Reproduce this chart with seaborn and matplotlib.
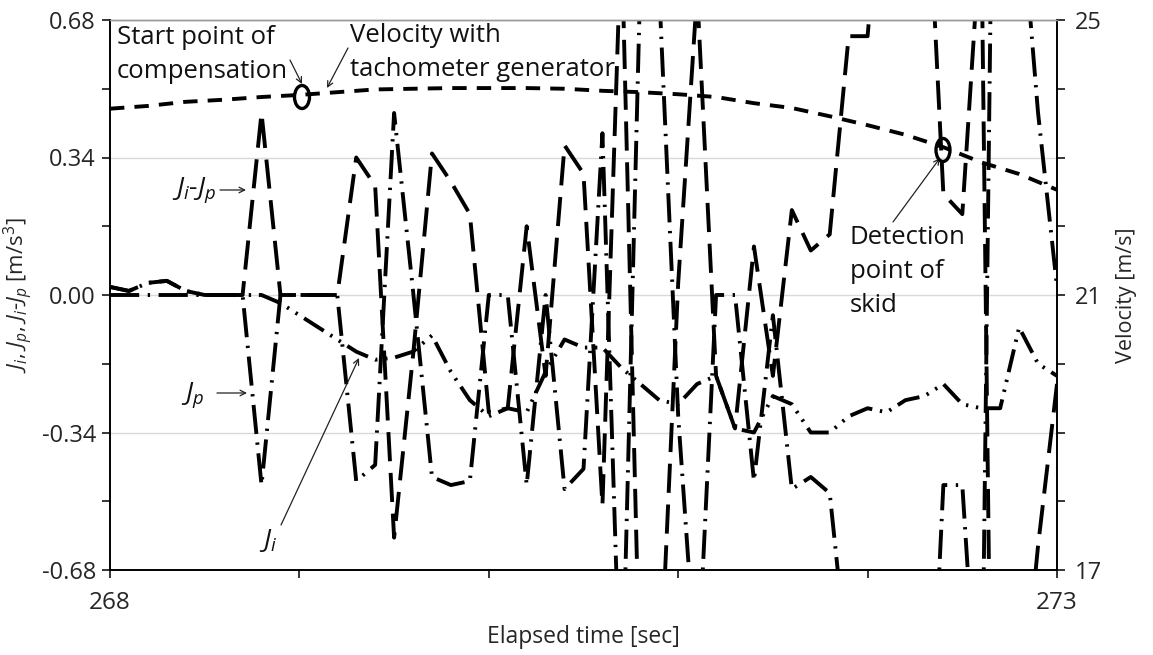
import numpy as np
import pandas as pd
import matplotlib
matplotlib.use("Agg")
import matplotlib.pyplot as plt
import seaborn as sns
from matplotlib.patches import Ellipse

# ---------------- data ----------------
time = np.round(np.arange(268.0, 273.0001, 0.1), 1)

ji = [0.02, 0.01, 0.03, 0.035, 0.01, 0.0, 0.0, 0.0, 0.0, -0.02,
      -0.05, -0.08, -0.11, -0.14, -0.16, -0.155, -0.14, -0.10, -0.19, -0.26,
      -0.30, -0.28, -0.29, -0.19, -0.11, -0.13, -0.13, -0.18, -0.22, -0.26,
      -0.27, -0.22, -0.20, -0.33, -0.34, -0.25, -0.27, -0.34, -0.34, -0.30,
      -0.28, -0.29, -0.26, -0.25, -0.22, -0.27, -0.28, -0.28, -0.08, -0.17,
      -0.20]

jp = [0.0, 0.0, 0.0, 0.0, 0.0, 0.0, 0.0, 0.0, -0.47, 0.0,
      0.0, 0.0, 0.0, -0.46, -0.42, 0.45, 0.01, -0.45, -0.47, -0.46,
      0.0, 0.0, -0.47, 0.0, -0.48, -0.43, 0.40, -1.08, 0.78, 0.75,
      -0.30, -0.97, 0.0, 0.0, -0.46, -0.05, -0.48, -0.45, -0.49, -0.94,
      -0.92, -1.49, -1.66, -1.45, -0.47, -0.47, -1.20, 2.70, 1.02, 0.45,
      0.02]

ji_jp = [0.02, 0.01, 0.03, 0.035, 0.01, 0.0, 0.0, 0.0, 0.45, 0.0,
         0.0, 0.0, 0.0, 0.34, 0.27, -0.60, -0.15, 0.35, 0.28, 0.20,
         -0.29, -0.28, 0.17, -0.20, 0.37, 0.30, -0.52, 0.90, -1.00, -1.00,
         0.03, 0.75, -0.20, -0.33, 0.12, -0.20, 0.21, 0.11, 0.15, 0.64,
         0.64, 1.20, 1.40, 1.20, 0.25, 0.20, 0.92, -3.00, -1.10, -0.62,
         -0.22]

vel_time = [268.0, 268.2, 268.4, 268.6, 268.8, 269.0, 269.2, 269.4, 269.6,
            269.8, 270.0, 270.2, 270.4, 270.6, 270.8, 271.0, 271.2, 271.4,
            271.6, 271.8, 272.0, 272.2, 272.4, 272.6, 272.8, 273.0]
velocity = [23.71, 23.75, 23.81, 23.84, 23.88, 23.91, 23.95, 23.99, 24.00,
            24.01, 24.01, 24.01, 24.00, 23.97, 23.95, 23.92, 23.88, 23.79,
            23.72, 23.60, 23.47, 23.33, 23.15, 22.93, 22.76, 22.53]

left_ticks = [-0.68, -0.34, 0.0, 0.34, 0.68]
left_minor = [-0.51, -0.17, 0.17, 0.51]
x_ticks = [268, 269, 270, 271, 272, 273]
x_labels = ["268", "", "", "", "", "273"]
right_ticks = [17, 18, 19, 20, 21, 22, 23, 24, 25]
right_labels = ["17", "", "", "", "21", "", "", "", "25"]

# ---------------- style ----------------
sns.set_style("white")
plt.rcParams["font.family"] = ["Open Sans", "DejaVu Sans"]
plt.rcParams["mathtext.fontset"] = "custom"
plt.rcParams["mathtext.it"] = "Open Sans:italic"
plt.rcParams["mathtext.rm"] = "Open Sans"

W, H = 1153, 655
fig = plt.figure(figsize=(W / 100, H / 100), dpi=100)
L, R, T, B = 110, 1057, 20, 570
ax = fig.add_axes([L / W, 1 - B / H, (R - L) / W, (B - T) / H])
ax2 = ax.twinx()

df = pd.DataFrame({"t": time, "ji": ji, "jp": jp, "d": ji_jp})
vdf = pd.DataFrame({"t": vel_time, "v": velocity})

LW = 2.8
sns.lineplot(data=df, x="t", y="ji", ax=ax, color="black", lw=LW, estimator=None)
ax.lines[-1].set_dashes([6, 2.0, 0.6, 2.0, 0.6, 2.0])
sns.lineplot(data=df, x="t", y="jp", ax=ax, color="black", lw=LW, estimator=None)
ax.lines[-1].set_dashes([7.5, 2.2, 0.6, 2.2])
sns.lineplot(data=df, x="t", y="d", ax=ax, color="black", lw=LW, estimator=None)
ax.lines[-1].set_dashes([7.5, 3.0])

sns.lineplot(data=vdf, x="t", y="v", ax=ax2, color="black", lw=LW, estimator=None)
ax2.lines[-1].set_dashes([3.7, 2.6])

# ---------------- axes ----------------
ax.set_xlim(268, 273)
ax.set_ylim(-0.68, 0.68)
ax2.set_ylim(17, 25)

ax.set_xticks(x_ticks)
ax.set_xticklabels(x_labels)
ax.set_yticks(left_ticks)
ax.set_yticklabels([f"{v:.2f}" for v in left_ticks])
ax.set_yticks(left_minor, minor=True)
ax2.set_yticks(right_ticks)
ax2.set_yticklabels(right_labels)

ax.grid(axis="y", which="major", color="#d9d9d9", lw=1.0)
ax.grid(axis="x", visible=False)
ax.set_axisbelow(True)

ax.tick_params(axis="y", which="both", direction="out", length=6, width=1.1,
               color="black", labelsize=17, pad=4, left=True)
ax.tick_params(axis="x", which="both", direction="out", length=6, width=1.1,
               color="black", labelsize=17.5, pad=9, bottom=True)
ax2.tick_params(axis="y", direction="out", length=6, width=1.1, color="black",
                labelsize=17, pad=7, right=True)

for a in (ax, ax2):
    for s in ("left", "bottom", "right"):
        a.spines[s].set_color("black")
        a.spines[s].set_linewidth(1.2)
    a.spines["top"].set_color("#9a9a9a")
    a.spines["top"].set_linewidth(1.0)

ax.set_xlabel("Elapsed time [sec]", fontsize=16.5, labelpad=7)
ax.set_ylabel(r"$J_i$, $J_p$, $J_i$-$J_p$ [m/s$^3$]", fontsize=16, labelpad=5)
ax2.set_ylabel("Velocity [m/s]", fontsize=15.5, labelpad=10)

# ---------------- annotations ----------------
def px2d(x, y):
    return 268 + (x - L) / (R - L) * 5, 0.68 - (y - T) / (B - T) * 1.36

txt = dict(fontsize=18.5, color="#111111", va="center", ha="left")
ax.text(*px2d(117, 38), "Start point of", **txt)
ax.text(*px2d(117, 71), "compensation", **txt)
ax.text(*px2d(350, 36), "Velocity with", **txt)
ax.text(*px2d(350, 70), "tachometer generator", **txt)
ax.text(*px2d(850, 238), "Detection", **txt)
ax.text(*px2d(850, 272), "point of", **txt)
ax.text(*px2d(850, 306), "skid", **txt)

arw = dict(arrowstyle="->", color="#222222", lw=0.9, shrinkA=0, shrinkB=0)
ax.annotate("", xy=px2d(302, 84), xytext=px2d(290, 60), arrowprops=arw)
ax.annotate("", xy=px2d(327, 88), xytext=px2d(348, 48), arrowprops=arw)
ax.annotate("", xy=px2d(940, 158), xytext=px2d(893, 222), arrowprops=arw)
ax.annotate("", xy=px2d(246, 190), xytext=px2d(220, 190), arrowprops=arw)
ax.annotate("", xy=px2d(247, 393), xytext=px2d(217, 393), arrowprops=arw)
ax.annotate("", xy=px2d(359, 358), xytext=px2d(281, 525), arrowprops=arw)

jtxt = dict(fontsize=19, color="#111111", va="center", ha="right")
ax.text(*px2d(216, 190), r"$J_i$-$J_p$", **jtxt)
ax.text(*px2d(204, 395), r"$J_p$", **jtxt)
ax.text(*px2d(277, 541), r"$J_i$", **jtxt)

sx = 5 / (R - L)
sy = 1.36 / (B - T)
for (cx, cy, w, h) in [(302, 97, 15, 23), (943, 150, 14, 23)]:
    ax.add_patch(Ellipse(px2d(cx, cy), w * sx, h * sy, fill=False,
                         ec="black", lw=2.4, zorder=5, clip_on=False))

fig.savefig("out.png", dpi=100)
